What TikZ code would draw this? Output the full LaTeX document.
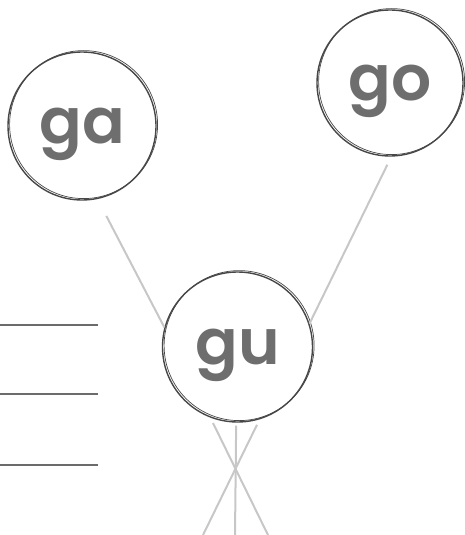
\documentclass[tikz,border=0pt]{standalone}
\usepackage{fontspec}
\newfontfamily\syllfont{Poppins}[BoldFont={* SemiBold}]

\begin{document}
\begin{tikzpicture}[
  x=1pt, y=-1pt,
  syll/.style={circle, draw=black!72, line width=1.4pt, minimum size=148pt, inner sep=0pt,
    font=\syllfont\bfseries\fontsize{63}{63}\selectfont, text=black!57, text depth=0pt},
  echo/.style={draw=black!72, line width=0.7pt},
  link/.style={draw=black!22, line width=2pt},
  rule/.style={draw=black!58, line width=1.5pt}
]
\useasboundingbox (0,0) rectangle (464,535);

\node[syll] (ga) at (82,126) {ga};
\node[syll, minimum size=146pt] (go) at (390,83) {go};
\node[syll, minimum size=150pt] (gu) at (237.5,347) {gu};

% second pencil stroke on each ring
\draw[echo] ([shift={(1.6,-1.4)}]ga.center) circle (74pt);
\draw[echo] ([shift={(1.6,-1.4)}]go.center) circle (73pt);
\draw[echo] ([shift={(1.6,-1.4)}]gu.center) circle (75pt);

\draw[link, shorten <=19pt] (ga.-78) -- (gu.165);
\draw[link, shorten <=9pt] (go.-89) -- (gu.18);

\coordinate (foot1) at (268,535);
\coordinate (foot2) at (235,535);
\coordinate (foot3) at (203,535);
\draw[link, shorten <=6pt] (gu.-111) -- (foot1);
\draw[link, shorten <=3pt] (gu.-91) -- (foot2);
\draw[link, shorten <=6pt] (gu.-73) -- (foot3);

\foreach \y in {325,394,465}
  \draw[rule] (0,\y) -- (98,\y);

\end{tikzpicture}
\end{document}
